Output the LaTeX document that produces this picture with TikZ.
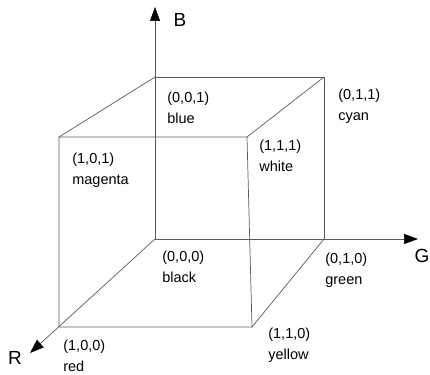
\documentclass[tikz,border=0pt]{standalone}
\usepackage{fontspec}
\setmainfont{Liberation Sans}
\usetikzlibrary{arrows.meta, positioning, calc}
\definecolor{cedge}{HTML}{5A5A5A}
\tikzset{
  every picture/.style={line width=0.7pt},
  edge/.style={draw=cedge},
  axis/.style={draw=cedge, -{Triangle[length=14pt, width=10pt, color=black]}},
  corner/.style={font=\fontsize{14.5}{21}\selectfont, align=left, inner sep=0pt, anchor=north west},
  axislabel/.style={font=\fontsize{19}{19}\selectfont, inner sep=0pt},
}

\begin{document}
\begin{tikzpicture}[x=1pt, y=-1pt]
  \useasboundingbox (0,0) rectangle (430,374);
  % cube corners
  \coordinate (blk) at (155,239);
  \coordinate (blu) at (155,77);
  \coordinate (cyn) at (324,77);
  \coordinate (grn) at (324,239);
  \coordinate (red) at (59,327);
  \coordinate (mag) at (59,137);
  \coordinate (wht) at (247,137);
  \coordinate (yel) at (252,327);
  % axis ends
  \coordinate (tipB) at (155,7);
  \coordinate (tipG) at (418,239);
  \coordinate (tipR) at (30,353);
  \draw[axis] (blk) -- (tipB);
  \draw[axis] (blk) -- (tipG);
  \draw[axis] (blk) -- (tipR);
  \node[axislabel] (lblB) at ($(tipB)+(25,13)$) {B};
  \node[axislabel] (lblG) at ($(tipG)+(4,17)$) {G};
  \node[axislabel] (lblR) at ($(tipR)+(-15,5)$) {R};
  % edges
  \draw[edge] (red) -- (mag) -- (wht) -- (yel) -- cycle;
  \draw[edge] (blu) -- (cyn) -- (grn);
  \draw[edge] (mag) -- (blu);
  \draw[edge] (wht) -- (cyn);
  \draw[edge] (yel) -- (grn);
  % corner labels
  \node[corner] (tblk) at ($(blk)+(7,12)$) {(0,0,0)\\black};
  \node[corner] (tblu) at ($(blu)+(12,15)$) {(0,0,1)\\blue};
  \node[corner] (tcyn) at ($(cyn)+(14,12)$) {(0,1,1)\\cyan};
  \node[corner] (tgrn) at ($(grn)+(1,14)$) {(0,1,0)\\green};
  \node[corner] (tred) at ($(red)+(4,13)$) {(1,0,0)\\red};
  \node[corner] (tmag) at ($(mag)+(13,16)$) {(1,0,1)\\magenta};
  \node[corner] (twht) at ($(wht)+(12,3)$) {(1,1,1)\\white};
  \node[corner] (tyel) at ($(yel)+(16,1)$) {(1,1,0)\\yellow};
\end{tikzpicture}
\end{document}
